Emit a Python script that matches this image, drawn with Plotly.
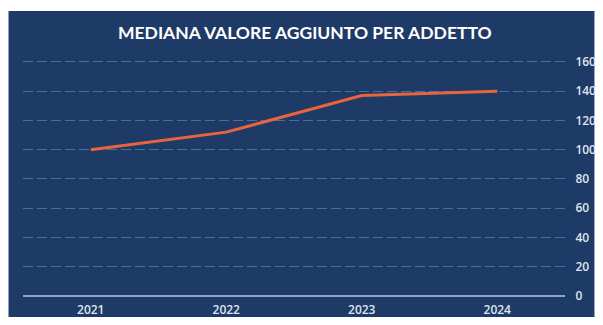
import plotly.graph_objects as go

years = ["2021", "2022", "2023", "2024"]
values = [100, 112, 137, 140]
y_ticks = [0, 20, 40, 60, 80, 100, 120, 140, 160]
title_text = "MEDIANA VALORE AGGIUNTO PER ADDETTO"

# page has an 8px body margin; figure sized so the page fits the window exactly
OFF = 8
W, H = 603 - 2 * OFF, 325 - 2 * OFF
ml = 22.5 - OFF
mr = W - (565.5 - OFF)
mt = 59 - OFF
mb = H - (296 - OFF)
pw, ph = W - ml - mr, H - mt - mb

def px_x(p):
    return (p - OFF - ml) / pw

def px_y(p):
    return (H - mb - (p - OFF)) / ph

navy = "#1e3a66"

fig = go.Figure()
fig.add_trace(go.Scatter(
    x=years, y=values, mode="lines",
    line=dict(color="#e8643c", width=3),
    hoverinfo="skip", showlegend=False,
))

fig.add_shape(type="rect", xref="paper", yref="paper",
              x0=px_x(8), x1=px_x(595), y0=px_y(317), y1=px_y(11),
              fillcolor=navy, line=dict(width=0), layer="below")

fig.add_annotation(text="<b>" + title_text + "</b>", xref="paper", yref="paper",
                   x=px_x(305), y=px_y(32), xanchor="center", yanchor="middle",
                   showarrow=False, font=dict(family="Lato", size=17.5, color="white"))

fig.update_layout(
    width=W, height=H,
    margin=dict(l=ml, r=mr, t=mt, b=mb, pad=0, autoexpand=False),
    paper_bgcolor="white",
    plot_bgcolor=navy,
    font=dict(family="Open Sans", size=12, color="#dfe5ee"),
    xaxis=dict(type="category", range=[-0.5, 3.5], showgrid=False,
               showline=False, zeroline=False, automargin=False,
               ticks="outside", ticklen=3, tickcolor="rgba(0,0,0,0)",
               tickfont=dict(size=12, color="#dfe5ee", weight=600)),
    yaxis=dict(range=[0, 162], tickvals=y_ticks, side="right", automargin=False,
               showgrid=True, gridcolor="#4a6d9c", griddash="10px,4px",
               gridwidth=1,
               zeroline=True, zerolinecolor="#8ea6c6", zerolinewidth=2,
               ticks="outside", ticklen=7, tickcolor="rgba(0,0,0,0)",
               tickfont=dict(size=12, color="#dfe5ee", weight=600)),
)

fig.write_html("out.html")
